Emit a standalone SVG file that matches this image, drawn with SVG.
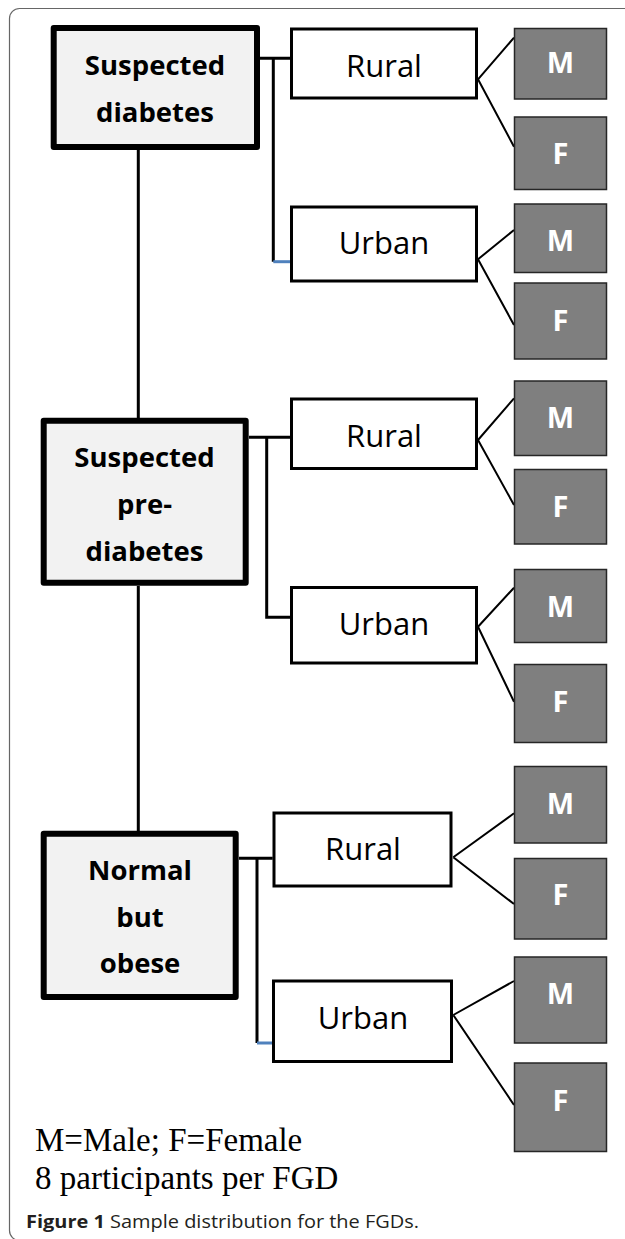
<svg xmlns="http://www.w3.org/2000/svg" width="625" height="1239" viewBox="0 0 625 1239">
<style>
.frame{fill:none;stroke:#666;stroke-width:1.2}
.main{fill:#f2f2f2;stroke:#000;stroke-width:6;stroke-linejoin:round}
.sub{fill:#fff;stroke:#000;stroke-width:3}
.sex{fill:#7f7f7f;stroke:#262626;stroke-width:1.5}
.lbl{font-family:"Open Sans","Noto Sans",sans-serif;text-anchor:middle}
.mainT{font-size:27.5px;font-weight:bold;fill:#000}
.subT{font-size:31px;fill:#000}
.sexT{font-size:29px;font-weight:bold;fill:#fff}
.con{fill:none;stroke:#000;stroke-width:3}
.diag{fill:none;stroke:#000;stroke-width:2}
.blue{fill:none;stroke:#4f81bd;stroke-width:3}
.legend{font-family:"Liberation Serif","Times New Roman",serif;font-size:33px;fill:#000}
.cap{font-family:"Open Sans","Noto Sans",sans-serif;font-size:18px;fill:#231f20}
</style>
<rect class="frame" x="9.5" y="8.5" width="640" height="1232" rx="10"/>

<g id="connectors">
  <path class="con" d="M138.3 150 V418 M138.3 586 V831"/>
  <path class="con" d="M260 58.3 H290 M273.3 58.3 V261.7"/>
  <path class="blue" d="M273.3 261.7 H290"/>
  <path class="con" d="M249 437.3 H290 M266.7 437.3 V617.3 H290"/>
  <path class="con" d="M239 858.3 H272.7 M257 858.3 V1043"/>
  <path class="blue" d="M257 1043 H272.7"/>
  <path class="diag" d="M478 79.3 L514 37.7 M478 79.3 L514 146.7"/>
  <path class="diag" d="M478 259.3 L514 230 M478 259.3 L514 325"/>
  <path class="diag" d="M478 440 L514 398.3 M478 440 L514 505"/>
  <path class="diag" d="M478 626.7 L514 587.7 M478 626.7 L514 701.7"/>
  <path class="diag" d="M453.3 857.3 L514 813.3 M453.3 857.3 L514 904"/>
  <path class="diag" d="M453.3 1015 L514 981 M453.3 1015 L514 1105"/>
</g>

<g id="suspected-diabetes">
  <rect class="main" x="53.7" y="28" width="203.3" height="119"/>
  <text class="lbl mainT" x="155" y="75">Suspected</text>
  <text class="lbl mainT" x="155" y="122">diabetes</text>
</g>
<g id="suspected-prediabetes">
  <rect class="main" x="43.7" y="420.7" width="202" height="162"/>
  <text class="lbl mainT" x="144.5" y="467">Suspected</text>
  <text class="lbl mainT" x="144.5" y="514">pre-</text>
  <text class="lbl mainT" x="144.5" y="561">diabetes</text>
</g>
<g id="normal-obese">
  <rect class="main" x="43.7" y="833.7" width="192" height="163.3"/>
  <text class="lbl mainT" x="140" y="880">Normal</text>
  <text class="lbl mainT" x="140" y="927">but</text>
  <text class="lbl mainT" x="140" y="973">obese</text>
</g>

<g id="rural-1"><rect class="sub" x="291.5" y="29" width="185" height="69"/><text class="lbl subT" x="384" y="77">Rural</text></g>
<g id="urban-1"><rect class="sub" x="291.5" y="207" width="185" height="74"/><text class="lbl subT" x="384" y="254">Urban</text></g>
<g id="rural-2"><rect class="sub" x="291.5" y="399" width="185" height="69.5"/><text class="lbl subT" x="384" y="447">Rural</text></g>
<g id="urban-2"><rect class="sub" x="291.5" y="587.5" width="185" height="75.5"/><text class="lbl subT" x="384" y="635">Urban</text></g>
<g id="rural-3"><rect class="sub" x="274" y="813" width="177" height="73"/><text class="lbl subT" x="363" y="860">Rural</text></g>
<g id="urban-3"><rect class="sub" x="273.5" y="981" width="178" height="80.5"/><text class="lbl subT" x="363" y="1029">Urban</text></g>

<g id="m-1"><rect class="sex" x="514.5" y="28.5" width="92" height="70.5"/><text class="lbl sexT" x="560.5" y="72.7">M</text></g>
<g id="f-1"><rect class="sex" x="514.5" y="117" width="92" height="72.5"/><text class="lbl sexT" x="560.5" y="164">F</text></g>
<g id="m-2"><rect class="sex" x="514.5" y="204" width="92" height="68.5"/><text class="lbl sexT" x="560.5" y="250.7">M</text></g>
<g id="f-2"><rect class="sex" x="514.5" y="283" width="92" height="76"/><text class="lbl sexT" x="560.5" y="331">F</text></g>
<g id="m-3"><rect class="sex" x="514.5" y="381" width="92" height="74.5"/><text class="lbl sexT" x="560.5" y="428">M</text></g>
<g id="f-3"><rect class="sex" x="514.5" y="469.5" width="92" height="74.5"/><text class="lbl sexT" x="560.5" y="516.7">F</text></g>
<g id="m-4"><rect class="sex" x="514.5" y="569.5" width="92" height="73"/><text class="lbl sexT" x="560.5" y="616.7">M</text></g>
<g id="f-4"><rect class="sex" x="514.5" y="664.5" width="92" height="78"/><text class="lbl sexT" x="560.5" y="711.5">F</text></g>
<g id="m-5"><rect class="sex" x="514.5" y="766.5" width="92" height="76.5"/><text class="lbl sexT" x="560.5" y="814.3">M</text></g>
<g id="f-5"><rect class="sex" x="514.5" y="858.5" width="92" height="80.5"/><text class="lbl sexT" x="560.5" y="905">F</text></g>
<g id="m-6"><rect class="sex" x="514.5" y="957" width="92" height="86"/><text class="lbl sexT" x="560.5" y="1004.3">M</text></g>
<g id="f-6"><rect class="sex" x="514.5" y="1063" width="92" height="88.5"/><text class="lbl sexT" x="560.5" y="1110.7">F</text></g>

<g id="legend">
  <text class="legend" x="35" y="1150.7">M=Male; F=Female</text>
  <text class="legend" x="35" y="1189.3">8 participants per FGD</text>
</g>
<text class="cap" x="26" y="1228.3" textLength="393" lengthAdjust="spacingAndGlyphs"><tspan font-weight="bold">Figure 1</tspan> Sample distribution for the FGDs.</text>
</svg>
